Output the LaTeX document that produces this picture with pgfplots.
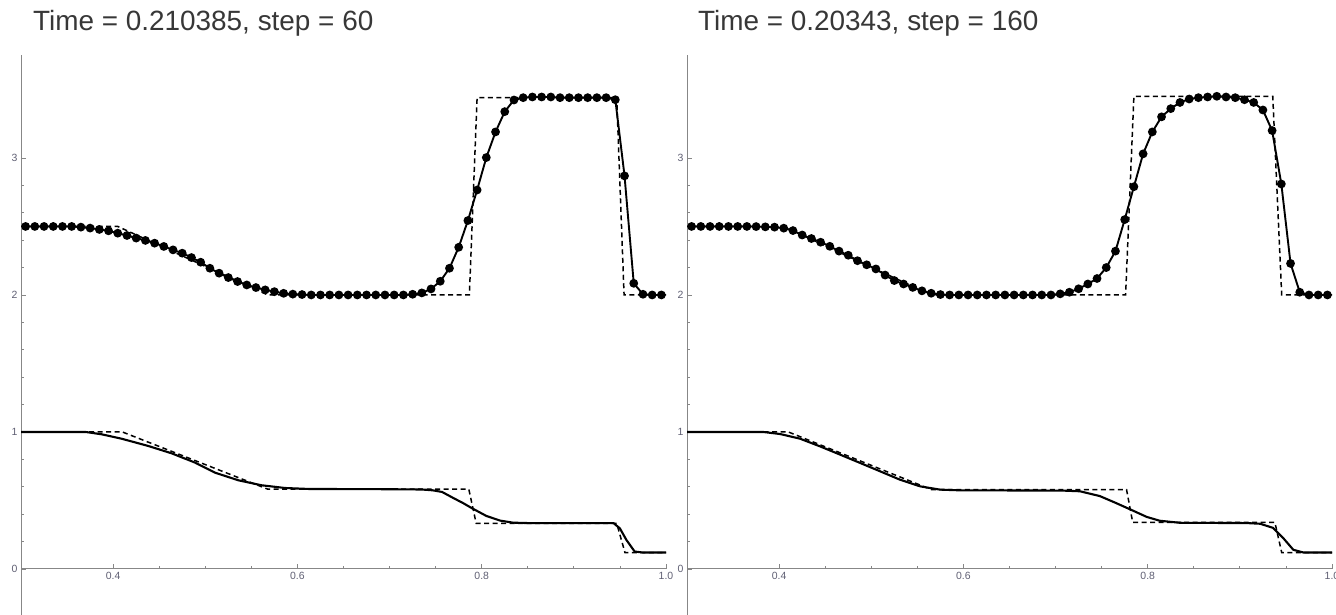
\documentclass[border=0pt]{standalone}
\usepackage{fontspec}
\setmainfont{Liberation Sans}
\usepackage{pgfplots}
\pgfplotsset{compat=1.18}

\definecolor{axgray}{RGB}{135,135,135}
\definecolor{lblgray}{RGB}{95,95,115}
\definecolor{titlegray}{RGB}{55,55,55}

\pgfplotsset{
 mystyle/.style={
  scale only axis, width=645bp, height=559.8bp,
  xmin=0.3, xmax=1.0, ymin=-0.336, ymax=3.75,
  axis x line=middle, axis y line=left,
  axis line style={-, axgray, line width=1bp},
  xtick={0.4,0.6,0.8,1.0}, ytick={0,1,2,3},
  minor x tick num=3, minor y tick num=4,
  tick align=inside, major tick length=5bp, minor tick length=3bp,
  every tick/.style={axgray, line width=0.8bp},
  hide obscured x ticks=false, hide obscured y ticks=false,
  /pgf/number format/assume math mode=true,
  xticklabel style={/pgf/number format/.cd, fixed, fixed zerofill, precision=1, /tikz/.cd, font=\fontsize{10.5}{12}\selectfont, text=lblgray},
  yticklabel style={font=\fontsize{10.5}{12}\selectfont, text=lblgray},
  clip=false,
 },
 num/.style={black, line width=1.9bp, mark=*, mark size=3.4pt, mark options={solid}},
 exact/.style={black, line width=1.5bp, dash pattern=on 5bp off 3.5bp},
 sol/.style={black, line width=2.1bp},
}

\begin{document}
\begin{tikzpicture}
% ---------------- left panel ----------------
\begin{axis}[mystyle, at={(21bp,0bp)}, anchor=south west]
\addplot[exact] coordinates {(0.3,2.5)(0.405,2.5)(0.568,2.0)(0.7866,2.0)(0.795,3.44)(0.9465,3.44)(0.9545,2.0)(1.0,2.0)};
\addplot[exact] coordinates {(0.3,1)(0.41,1)(0.568,0.582)(0.786,0.582)(0.794,0.333)(0.9465,0.333)(0.9555,0.119)(1.0,0.119)};
\addplot[sol] coordinates {(0.3,1)(0.37,1)(0.3875,0.983)(0.409,0.951)(0.438,0.898)(0.4635,0.844)(0.489,0.776)(0.5105,0.703)(0.536,0.647)(0.561,0.611)(0.5865,0.591)(0.612,0.584)(0.70,0.582)(0.735,0.58)(0.747,0.574)(0.757,0.562)(0.77,0.515)(0.78,0.48)(0.789,0.445)(0.805,0.387)(0.82,0.353)(0.834,0.338)(0.85,0.335)(0.943,0.335)(0.95,0.296)(0.957,0.212)(0.966,0.127)(0.975,0.12)(1.0,0.12)};
\addplot[num] coordinates {
(0.305,2.5)(0.315,2.5)(0.325,2.5)(0.335,2.5)(0.345,2.5)(0.355,2.5)
(0.365,2.495)(0.375,2.488)(0.385,2.478)(0.395,2.468)(0.405,2.451)(0.415,2.434)
(0.425,2.415)(0.435,2.398)(0.445,2.378)(0.455,2.354)(0.465,2.329)(0.475,2.305)
(0.485,2.273)(0.495,2.239)(0.505,2.195)(0.515,2.159)(0.525,2.127)(0.535,2.098)
(0.545,2.073)(0.555,2.054)(0.565,2.037)(0.575,2.024)(0.585,2.012)(0.595,2.006)
(0.605,2.003)(0.615,2.0)(0.625,2.0)(0.635,2.0)(0.645,2.0)(0.655,2.0)(0.665,2.0)
(0.675,2.0)(0.685,2.0)(0.695,2.0)(0.705,2.0)(0.715,2.0)(0.725,2.005)(0.735,2.015)
(0.745,2.044)(0.755,2.10)(0.765,2.195)(0.775,2.348)(0.785,2.543)(0.795,2.766)
(0.805,3.003)(0.815,3.19)(0.825,3.338)(0.835,3.423)(0.845,3.44)(0.855,3.445)
(0.865,3.445)(0.875,3.445)(0.885,3.44)(0.895,3.44)(0.905,3.44)(0.915,3.44)
(0.925,3.44)(0.935,3.44)(0.945,3.425)(0.955,2.869)(0.965,2.085)(0.975,2.005)
(0.985,2.0)(0.995,2.0)};
\end{axis}
% ---------------- right panel ----------------
\begin{axis}[mystyle, at={(687bp,0bp)}, anchor=south west]
\addplot[exact] coordinates {(0.3,2.5)(0.405,2.5)(0.565,2.0)(0.776,2.0)(0.785,3.45)(0.9357,3.45)(0.9454,2.0)(1.0,2.0)};
\addplot[exact] coordinates {(0.3,1)(0.41,1)(0.565,0.58)(0.777,0.58)(0.7837,0.34)(0.938,0.34)(0.9454,0.12)(1.0,0.12)};
\addplot[sol] coordinates {(0.3,1)(0.3825,1)(0.401,0.985)(0.4226,0.951)(0.4443,0.895)(0.466,0.835)(0.4878,0.774)(0.5095,0.713)(0.531,0.652)(0.553,0.603)(0.5746,0.579)(0.596,0.574)(0.708,0.572)(0.7265,0.567)(0.748,0.532)(0.766,0.48)(0.7826,0.43)(0.7989,0.38)(0.813,0.352)(0.835,0.337)(0.9075,0.335)(0.922,0.33)(0.936,0.30)(0.947,0.226)(0.958,0.14)(0.969,0.12)(1.0,0.12)};
\addplot[num] coordinates {
(0.305,2.5)(0.315,2.5)(0.325,2.5)(0.335,2.5)(0.345,2.5)(0.355,2.5)(0.365,2.5)
(0.375,2.499)(0.385,2.497)(0.395,2.495)(0.405,2.4875)(0.415,2.47)(0.425,2.4375)
(0.435,2.412)(0.445,2.385)(0.455,2.355)(0.465,2.32)(0.475,2.29)(0.485,2.25)
(0.495,2.22)(0.505,2.19)(0.515,2.145)(0.525,2.105)(0.535,2.08)(0.545,2.055)
(0.555,2.03)(0.565,2.0125)(0.575,2.003)(0.585,2.0)(0.595,2.0)(0.605,2.0)(0.615,2.0)
(0.625,2.0)(0.635,2.0)(0.645,2.0)(0.655,2.0)(0.665,2.0)(0.675,2.0)(0.685,2.0)
(0.695,2.0)(0.705,2.008)(0.715,2.02)(0.725,2.045)(0.735,2.08)(0.745,2.12)
(0.755,2.20)(0.765,2.32)(0.775,2.55)(0.785,2.79)(0.795,3.03)(0.805,3.19)
(0.815,3.30)(0.825,3.36)(0.835,3.405)(0.845,3.43)(0.855,3.44)(0.865,3.445)
(0.875,3.45)(0.885,3.445)(0.895,3.44)(0.905,3.425)(0.915,3.405)(0.925,3.35)
(0.935,3.20)(0.945,2.81)(0.955,2.23)(0.965,2.02)(0.975,2.0)(0.985,2.0)(0.995,2.0)};
\end{axis}
% titles
\node[anchor=base west, inner sep=0, text=titlegray, font=\fontsize{28}{32}\selectfont] at (33bp,584bp) {Time = 0.210385, step = 60};
\node[anchor=base west, inner sep=0, text=titlegray, font=\fontsize{28}{32}\selectfont] at (698bp,584bp) {Time = 0.20343, step = 160};
\pgfresetboundingbox
\useasboundingbox (0bp,0bp) rectangle (1336bp,615bp);
\end{tikzpicture}
\end{document}
